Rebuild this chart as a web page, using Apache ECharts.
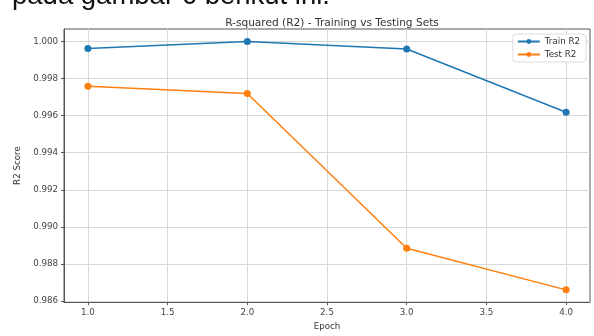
<!DOCTYPE html>
<html>
<head>
<meta charset="utf-8">
<script src="https://cdn.jsdelivr.net/npm/echarts@6/dist/echarts.min.js"></script>
<style>
  html, body { margin: 0; padding: 0; background: #fff; }
  #chart { width: 594px; height: 336px; }
</style>
</head>
<body>
<div id="chart"></div>
<script>
// Epochs and R2 scores per set
const epochs = [1.0, 2.0, 3.0, 4.0];
const trainR2 = [0.99962, 1.00000, 0.99959, 0.99618];
const testR2 = [0.99759, 0.99719, 0.98885, 0.98661];

// Tick positions shown on each axis
const xTicks = [1.0, 1.5, 2.0, 2.5, 3.0, 3.5, 4.0];
const yTicks = [0.986, 0.988, 0.990, 0.992, 0.994, 0.996, 0.998, 1.000];

const FONT = 'DejaVu Sans';
const tickLabel = { fontFamily: FONT, fontSize: 8.7, color: '#444' };

const chart = echarts.init(document.getElementById('chart'), null, { renderer: 'canvas' });

chart.setOption({
  animation: false,
  backgroundColor: '#fff',
  title: {
    text: 'R-squared (R2) - Training vs Testing Sets',
    left: 327,
    top: 13,
    textAlign: 'center',
    textStyle: { fontFamily: FONT, fontSize: 10.6, fontWeight: 'normal', color: '#333' }
  },
  graphic: [{
    type: 'text',
    left: 12,
    top: -18,
    style: {
      text: 'pada gambar 6 berikut ini.',
      fontFamily: 'Liberation Sans',
      fontSize: 27.5,
      fill: '#111'
    }
  }],
  legend: {
    right: 8,
    top: 34,
    orient: 'vertical',
    itemWidth: 22,
    itemHeight: 6,
    itemGap: 4,
    padding: [3, 6, 3, 4],
    backgroundColor: '#fff',
    borderColor: '#ddd',
    borderWidth: 1,
    borderRadius: 3,
    textStyle: { fontFamily: FONT, fontSize: 8.7, color: '#333' },
    data: ['Train R2', 'Test R2']
  },
  grid: {
    left: 64, right: 4, top: 29, bottom: 26, containLabel: false,
    show: true, borderColor: '#555', borderWidth: 1, backgroundColor: 'transparent'
  },
  xAxis: {
    type: 'value',
    min: 0.85,
    max: 4.15,
    name: 'Epoch',
    nameLocation: 'middle',
    nameGap: 19,
    nameTextStyle: { fontFamily: FONT, fontSize: 8.7, color: '#333' },
    axisLine: { show: true, lineStyle: { color: '#555', width: 1 } },
    axisTick: { show: true, length: 3, customValues: xTicks, lineStyle: { color: '#555' } },
    axisLabel: Object.assign({ customValues: xTicks, margin: 6, formatter: v => v.toFixed(1) }, tickLabel),
    splitLine: { show: true, lineStyle: { color: '#d8d8d8', width: 1 } }
  },
  yAxis: {
    type: 'value',
    min: 0.98595,
    max: 1.00067,
    name: 'R2 Score',
    nameLocation: 'middle',
    nameGap: 41,
    nameTextStyle: { fontFamily: FONT, fontSize: 8.7, color: '#333' },
    axisLine: { show: true, lineStyle: { color: '#555', width: 1 } },
    axisTick: { show: true, length: 3, customValues: yTicks, lineStyle: { color: '#555' } },
    axisLabel: Object.assign({ customValues: yTicks, margin: 6, formatter: v => v.toFixed(3) }, tickLabel),
    splitLine: { show: true, lineStyle: { color: '#d8d8d8', width: 1 } }
  },
  series: [
    {
      name: 'Train R2',
      type: 'line',
      data: epochs.map((e, i) => [e, trainR2[i]]),
      symbol: 'circle',
      symbolSize: 7,
      itemStyle: { color: '#1f77b4' },
      lineStyle: { color: '#1f77b4', width: 1.5 }
    },
    {
      name: 'Test R2',
      type: 'line',
      data: epochs.map((e, i) => [e, testR2[i]]),
      symbol: 'circle',
      symbolSize: 7,
      itemStyle: { color: '#ff7f0e' },
      lineStyle: { color: '#ff7f0e', width: 1.5 }
    }
  ]
});
</script>
</body>
</html>
